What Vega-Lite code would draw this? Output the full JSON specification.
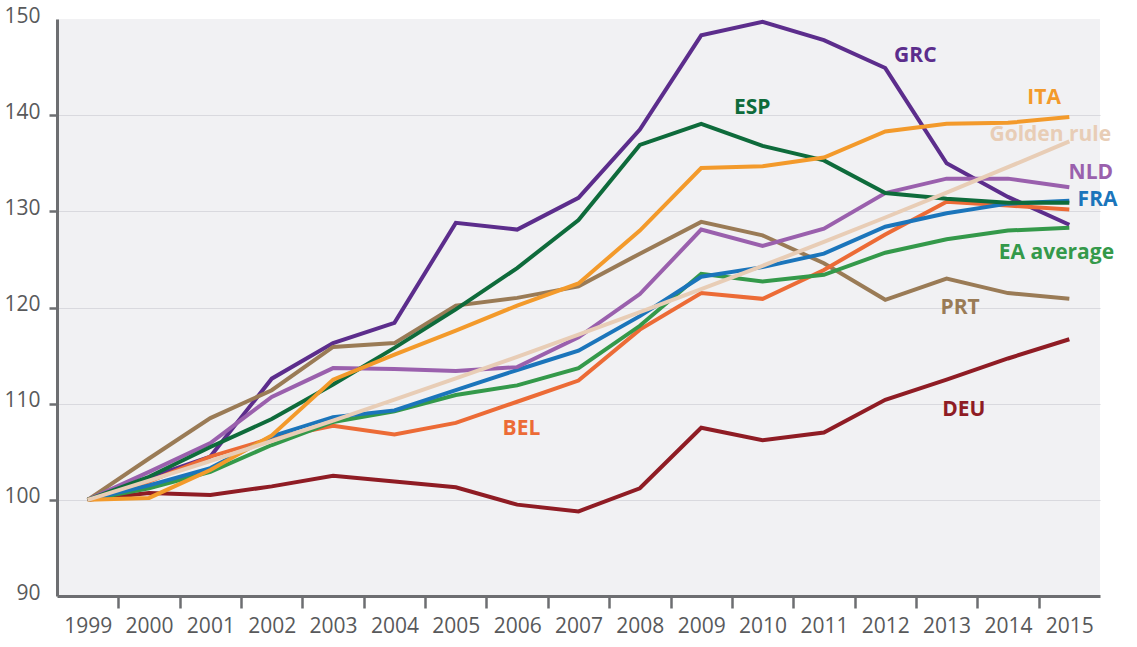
{
  "$schema": "https://vega.github.io/schema/vega-lite/v6.json",
  "width": 1043,
  "height": 577,
  "autosize": {"type": "none"},
  "padding": {"left": 57, "top": 19, "right": 37, "bottom": 51},
  "background": "#ffffff",
  "config": {
    "view": {"stroke": null, "fill": "#f1f1f3"},
    "axis": {
      "labelFont": "Open Sans",
      "labelFontSize": 21,
      "labelColor": "#58595b",
      "domainColor": "#6d6e71",
      "domainWidth": 3,
      "tickColor": "#6d6e71",
      "tickWidth": 2.5,
      "gridColor": "#d9d9de",
      "gridWidth": 1.2,
      "title": null
    }
  },
  "datasets": {
    "lines": [
      {"series": "GRC", "year": 1999, "value": 100}, {"series": "GRC", "year": 2000, "value": 102.3}, {"series": "GRC", "year": 2001, "value": 104.5}, {"series": "GRC", "year": 2002, "value": 112.6}, {"series": "GRC", "year": 2003, "value": 116.3}, {"series": "GRC", "year": 2004, "value": 118.4}, {"series": "GRC", "year": 2005, "value": 128.8}, {"series": "GRC", "year": 2006, "value": 128.1}, {"series": "GRC", "year": 2007, "value": 131.4}, {"series": "GRC", "year": 2008, "value": 138.5}, {"series": "GRC", "year": 2009, "value": 148.3}, {"series": "GRC", "year": 2010, "value": 149.7}, {"series": "GRC", "year": 2011, "value": 147.8}, {"series": "GRC", "year": 2012, "value": 144.9}, {"series": "GRC", "year": 2013, "value": 135.0}, {"series": "GRC", "year": 2014, "value": 131.5}, {"series": "GRC", "year": 2015, "value": 128.6},
      {"series": "DEU", "year": 1999, "value": 100}, {"series": "DEU", "year": 2000, "value": 100.7}, {"series": "DEU", "year": 2001, "value": 100.5}, {"series": "DEU", "year": 2002, "value": 101.4}, {"series": "DEU", "year": 2003, "value": 102.5}, {"series": "DEU", "year": 2004, "value": 101.9}, {"series": "DEU", "year": 2005, "value": 101.3}, {"series": "DEU", "year": 2006, "value": 99.5}, {"series": "DEU", "year": 2007, "value": 98.8}, {"series": "DEU", "year": 2008, "value": 101.2}, {"series": "DEU", "year": 2009, "value": 107.5}, {"series": "DEU", "year": 2010, "value": 106.2}, {"series": "DEU", "year": 2011, "value": 107.0}, {"series": "DEU", "year": 2012, "value": 110.4}, {"series": "DEU", "year": 2013, "value": 112.5}, {"series": "DEU", "year": 2014, "value": 114.7}, {"series": "DEU", "year": 2015, "value": 116.7},
      {"series": "PRT", "year": 1999, "value": 100}, {"series": "PRT", "year": 2000, "value": 104.3}, {"series": "PRT", "year": 2001, "value": 108.5}, {"series": "PRT", "year": 2002, "value": 111.4}, {"series": "PRT", "year": 2003, "value": 115.9}, {"series": "PRT", "year": 2004, "value": 116.3}, {"series": "PRT", "year": 2005, "value": 120.2}, {"series": "PRT", "year": 2006, "value": 121.0}, {"series": "PRT", "year": 2007, "value": 122.2}, {"series": "PRT", "year": 2008, "value": 125.6}, {"series": "PRT", "year": 2009, "value": 128.9}, {"series": "PRT", "year": 2010, "value": 127.5}, {"series": "PRT", "year": 2011, "value": 124.6}, {"series": "PRT", "year": 2012, "value": 120.8}, {"series": "PRT", "year": 2013, "value": 123.0}, {"series": "PRT", "year": 2014, "value": 121.5}, {"series": "PRT", "year": 2015, "value": 120.9},
      {"series": "BEL", "year": 1999, "value": 100}, {"series": "BEL", "year": 2000, "value": 101.9}, {"series": "BEL", "year": 2001, "value": 104.5}, {"series": "BEL", "year": 2002, "value": 106.4}, {"series": "BEL", "year": 2003, "value": 107.7}, {"series": "BEL", "year": 2004, "value": 106.8}, {"series": "BEL", "year": 2005, "value": 108.0}, {"series": "BEL", "year": 2006, "value": 110.2}, {"series": "BEL", "year": 2007, "value": 112.4}, {"series": "BEL", "year": 2008, "value": 117.7}, {"series": "BEL", "year": 2009, "value": 121.5}, {"series": "BEL", "year": 2010, "value": 120.9}, {"series": "BEL", "year": 2011, "value": 123.9}, {"series": "BEL", "year": 2012, "value": 127.6}, {"series": "BEL", "year": 2013, "value": 131.0}, {"series": "BEL", "year": 2014, "value": 130.6}, {"series": "BEL", "year": 2015, "value": 130.2},
      {"series": "EA average", "year": 1999, "value": 100}, {"series": "EA average", "year": 2000, "value": 101.2}, {"series": "EA average", "year": 2001, "value": 102.9}, {"series": "EA average", "year": 2002, "value": 105.7}, {"series": "EA average", "year": 2003, "value": 108.1}, {"series": "EA average", "year": 2004, "value": 109.2}, {"series": "EA average", "year": 2005, "value": 110.9}, {"series": "EA average", "year": 2006, "value": 111.9}, {"series": "EA average", "year": 2007, "value": 113.7}, {"series": "EA average", "year": 2008, "value": 118.1}, {"series": "EA average", "year": 2009, "value": 123.5}, {"series": "EA average", "year": 2010, "value": 122.7}, {"series": "EA average", "year": 2011, "value": 123.4}, {"series": "EA average", "year": 2012, "value": 125.7}, {"series": "EA average", "year": 2013, "value": 127.1}, {"series": "EA average", "year": 2014, "value": 128.0}, {"series": "EA average", "year": 2015, "value": 128.3},
      {"series": "FRA", "year": 1999, "value": 100}, {"series": "FRA", "year": 2000, "value": 101.5}, {"series": "FRA", "year": 2001, "value": 103.3}, {"series": "FRA", "year": 2002, "value": 106.6}, {"series": "FRA", "year": 2003, "value": 108.6}, {"series": "FRA", "year": 2004, "value": 109.3}, {"series": "FRA", "year": 2005, "value": 111.4}, {"series": "FRA", "year": 2006, "value": 113.5}, {"series": "FRA", "year": 2007, "value": 115.5}, {"series": "FRA", "year": 2008, "value": 119.1}, {"series": "FRA", "year": 2009, "value": 123.2}, {"series": "FRA", "year": 2010, "value": 124.2}, {"series": "FRA", "year": 2011, "value": 125.6}, {"series": "FRA", "year": 2012, "value": 128.4}, {"series": "FRA", "year": 2013, "value": 129.8}, {"series": "FRA", "year": 2014, "value": 130.8}, {"series": "FRA", "year": 2015, "value": 131.1},
      {"series": "NLD", "year": 1999, "value": 100}, {"series": "NLD", "year": 2000, "value": 102.9}, {"series": "NLD", "year": 2001, "value": 105.9}, {"series": "NLD", "year": 2002, "value": 110.7}, {"series": "NLD", "year": 2003, "value": 113.7}, {"series": "NLD", "year": 2004, "value": 113.6}, {"series": "NLD", "year": 2005, "value": 113.4}, {"series": "NLD", "year": 2006, "value": 113.8}, {"series": "NLD", "year": 2007, "value": 116.9}, {"series": "NLD", "year": 2008, "value": 121.4}, {"series": "NLD", "year": 2009, "value": 128.1}, {"series": "NLD", "year": 2010, "value": 126.4}, {"series": "NLD", "year": 2011, "value": 128.2}, {"series": "NLD", "year": 2012, "value": 131.9}, {"series": "NLD", "year": 2013, "value": 133.4}, {"series": "NLD", "year": 2014, "value": 133.4}, {"series": "NLD", "year": 2015, "value": 132.5},
      {"series": "ESP", "year": 1999, "value": 100}, {"series": "ESP", "year": 2000, "value": 102.4}, {"series": "ESP", "year": 2001, "value": 105.5}, {"series": "ESP", "year": 2002, "value": 108.4}, {"series": "ESP", "year": 2003, "value": 112.0}, {"series": "ESP", "year": 2004, "value": 115.8}, {"series": "ESP", "year": 2005, "value": 119.8}, {"series": "ESP", "year": 2006, "value": 124.1}, {"series": "ESP", "year": 2007, "value": 129.1}, {"series": "ESP", "year": 2008, "value": 136.9}, {"series": "ESP", "year": 2009, "value": 139.1}, {"series": "ESP", "year": 2010, "value": 136.8}, {"series": "ESP", "year": 2011, "value": 135.3}, {"series": "ESP", "year": 2012, "value": 131.9}, {"series": "ESP", "year": 2013, "value": 131.3}, {"series": "ESP", "year": 2014, "value": 130.9}, {"series": "ESP", "year": 2015, "value": 130.9},
      {"series": "ITA", "year": 1999, "value": 100}, {"series": "ITA", "year": 2000, "value": 100.2}, {"series": "ITA", "year": 2001, "value": 103.1}, {"series": "ITA", "year": 2002, "value": 106.7}, {"series": "ITA", "year": 2003, "value": 112.5}, {"series": "ITA", "year": 2004, "value": 115.1}, {"series": "ITA", "year": 2005, "value": 117.6}, {"series": "ITA", "year": 2006, "value": 120.2}, {"series": "ITA", "year": 2007, "value": 122.5}, {"series": "ITA", "year": 2008, "value": 128.0}, {"series": "ITA", "year": 2009, "value": 134.5}, {"series": "ITA", "year": 2010, "value": 134.7}, {"series": "ITA", "year": 2011, "value": 135.6}, {"series": "ITA", "year": 2012, "value": 138.3}, {"series": "ITA", "year": 2013, "value": 139.1}, {"series": "ITA", "year": 2014, "value": 139.2}, {"series": "ITA", "year": 2015, "value": 139.8},
      {"series": "Golden rule", "year": 1999, "value": 100}, {"series": "Golden rule", "year": 2000, "value": 102.0}, {"series": "Golden rule", "year": 2001, "value": 104.04}, {"series": "Golden rule", "year": 2002, "value": 106.12}, {"series": "Golden rule", "year": 2003, "value": 108.24}, {"series": "Golden rule", "year": 2004, "value": 110.41}, {"series": "Golden rule", "year": 2005, "value": 112.62}, {"series": "Golden rule", "year": 2006, "value": 114.87}, {"series": "Golden rule", "year": 2007, "value": 117.17}, {"series": "Golden rule", "year": 2008, "value": 119.51}, {"series": "Golden rule", "year": 2009, "value": 121.9}, {"series": "Golden rule", "year": 2010, "value": 124.34}, {"series": "Golden rule", "year": 2011, "value": 126.82}, {"series": "Golden rule", "year": 2012, "value": 129.36}, {"series": "Golden rule", "year": 2013, "value": 131.95}, {"series": "Golden rule", "year": 2014, "value": 134.59}, {"series": "Golden rule", "year": 2015, "value": 137.28}
    ],
    "labels": [
      {"series": "GRC", "label": "GRC", "year": 2012.49, "value": 146.2},
      {"series": "ESP", "label": "ESP", "year": 2009.83, "value": 140.7},
      {"series": "ITA", "label": "ITA", "year": 2014.59, "value": 141.8},
      {"series": "Golden rule", "label": "Golden rule", "year": 2014.69, "value": 137.9},
      {"series": "NLD", "label": "NLD", "year": 2015.35, "value": 134.0},
      {"series": "FRA", "label": "FRA", "year": 2015.46, "value": 131.2},
      {"series": "EA average", "label": "EA average", "year": 2014.79, "value": 125.7},
      {"series": "PRT", "label": "PRT", "year": 2013.22, "value": 120.0},
      {"series": "DEU", "label": "DEU", "year": 2013.28, "value": 109.3},
      {"series": "BEL", "label": "BEL", "year": 2006.07, "value": 107.4}
    ]
  },
  "encoding": {
    "x": {
      "field": "year",
      "type": "quantitative",
      "scale": {"domain": [1998.5, 2015.5], "nice": false, "zero": false},
      "axis": {
        "values": [1999, 1999.5, 2000, 2000.5, 2001, 2001.5, 2002, 2002.5, 2003, 2003.5, 2004, 2004.5, 2005, 2005.5, 2006, 2006.5, 2007, 2007.5, 2008, 2008.5, 2009, 2009.5, 2010, 2010.5, 2011, 2011.5, 2012, 2012.5, 2013, 2013.5, 2014, 2014.5, 2015],
        "labelExpr": "datum.value % 1 === 0 ? '' + datum.value : ''",
        "labelOverlap": false,
        "labelFlush": false,
        "labelBound": false,
        "grid": false,
        "tickSize": 12,
        "labelPadding": 7,
        "tickOpacity": {"condition": {"test": "datum.value % 1 === 0", "value": 0}, "value": 1}
      }
    },
    "y": {
      "field": "value",
      "type": "quantitative",
      "scale": {"domain": [90, 150], "nice": false, "zero": false},
      "axis": {
        "values": [90, 100, 110, 120, 130, 140, 150],
        "grid": true,
        "tickSize": 8,
        "labelPadding": 9,
        "labelOffset": -3,
        "labelOverlap": false,
        "labelFlush": false,
        "tickOpacity": {"condition": {"test": "datum.value <= 90 || datum.value >= 150", "value": 0}, "value": 1},
        "gridOpacity": {"condition": {"test": "datum.value <= 90 || datum.value >= 150", "value": 0}, "value": 1}
      }
    },
    "color": {
      "field": "series",
      "type": "nominal",
      "legend": null,
      "scale": {
        "domain": ["GRC", "DEU", "PRT", "BEL", "EA average", "FRA", "NLD", "ESP", "ITA", "Golden rule"],
        "range": ["#5c2d8c", "#8f1c24", "#9a7b56", "#ec6b36", "#34994a", "#1b75bb", "#9a60ad", "#0e6b3b", "#f39a2b", "#e8cdb6"]
      }
    }
  },
  "layer": [
    {
      "data": {"name": "lines"},
      "mark": {"type": "line", "strokeWidth": 4, "strokeJoin": "miter", "clip": false}
    },
    {
      "data": {"name": "labels"},
      "mark": {"type": "text", "font": "Open Sans", "fontSize": 21, "fontWeight": "bold", "align": "center", "baseline": "middle"},
      "encoding": {"text": {"field": "label", "type": "nominal"}}
    }
  ]
}
